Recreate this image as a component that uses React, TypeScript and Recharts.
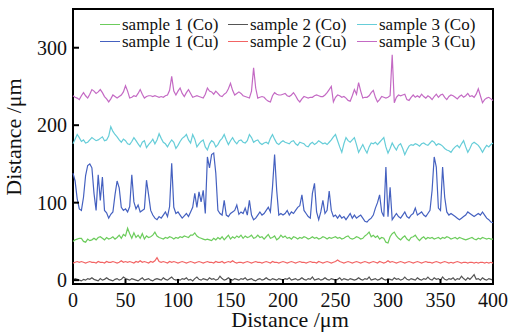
import { LineChart, Line, XAxis, YAxis, ReferenceArea, Legend } from "recharts";

const FONT = '"Liberation Serif", "Times New Roman", serif';

// profiles are sampled every 2 µm from 0 to 400 µm
const STEP_UM = 2;
const X_DOMAIN: [number, number] = [0, 400];
const Y_DOMAIN: [number, number] = [-5, 350];
const xTicks = [0, 50, 100, 150, 200, 250, 300, 350, 400];
const yTicks = [0, 100, 200, 300];

const co1 = [
  50, 52, 53, 54, 54, 50, 49, 53, 51, 52,
  54, 52, 55, 56, 54, 52, 55, 53, 54, 56,
  53, 55, 58, 54, 59, 57, 67, 60, 54, 61,
  55, 58, 54, 60, 53, 57, 55, 56, 58, 62,
  57, 55, 54, 53, 55, 54, 56, 55, 53, 55,
  54, 56, 55, 57, 56, 55, 58, 58, 61, 57,
  55, 54, 53, 52, 53, 52, 51, 54, 52, 55,
  53, 56, 52, 55, 58, 53, 56, 54, 57, 55,
  58, 54, 57, 55, 56, 58, 54, 55, 58, 55,
  56, 53, 56, 59, 54, 55, 57, 52, 54, 58,
  55, 57, 54, 55, 53, 56, 55, 53, 55, 54,
  56, 55, 53, 54, 56, 54, 55, 53, 54, 56,
  55, 53, 55, 54, 55, 56, 54, 55, 53, 54,
  56, 57, 54, 53, 54, 56, 55, 53, 54, 57,
  59, 62, 56, 58, 55, 57, 53, 55, 54, 49,
  48, 56, 60, 62, 57, 54, 52, 55, 57, 53,
  51, 55, 56, 58, 54, 51, 54, 56, 53, 55,
  54, 55, 53, 54, 55, 53, 55, 54, 56, 55,
  53, 54, 55, 53, 55, 54, 53, 52, 53, 54,
  55, 53, 52, 54, 53, 55, 54, 53, 54, 53,
  53,
];

const co2 = [
  0, 2, 1, 0, -1, 1, 0, 2, 1, 3,
  1, 0, -1, 2, 0, 1, 3, 1, 0, -1,
  1, 2, 0, 1, 4, 2, 1, 0, 2, 1,
  0, -1, 1, 3, 0, 1, 2, 0, -1, 1,
  2, 1, 0, 3, 1, 0, 2, 4, 1, 0,
  1, 0, 2, 1, 3, 0, 1, -1, 2, 4,
  1, 0, 2, 1, 0, 3, 1, 2, 0, 1,
  5, 2, 0, 1, 3, 1, 0, 2, 1, 0,
  2, 1, 3, 0, 1, 2, 0, -1, 1, 2,
  0, 1, 3, 1, 0, 2, 1, 0, 2, 1,
  0, 2, 1, 3, 0, 1, 2, 0, 1, 3,
  1, 0, 2, 1, 4, 0, 1, 2, 0, 1,
  3, 1, 0, 2, 1, 0, 1, 3, 0, 2,
  1, 0, 2, 1, 0, 1, 3, 1, 0, 2,
  1, 4, 0, 1, 2, 0, 1, 3, 1, 0,
  2, 1, 0, 3, 1, 2, 0, 1, 4, 1,
  0, 2, 1, 0, 3, 1, 0, 2, 1, 4,
  1, 0, 3, 1, 2, 0, 4, 1, 0, 2,
  1, 3, 0, 2, 1, 5, 2, 0, 3, 1,
  4, 7, 1, 2, 0, 3, 1, 0, 2, 1,
  0,
];

const co3 = [
  176, 182, 188, 184, 179, 181, 177, 178, 181, 184,
  182, 180, 181, 183, 185, 180, 181, 186, 198, 192,
  188, 185, 181, 178, 182, 180, 176, 175, 179, 184,
  180, 176, 172, 178, 180, 171, 175, 178, 182, 176,
  181, 189, 183, 178, 176, 172, 177, 181, 178, 170,
  174, 179, 183, 185, 188, 181, 177, 188, 182, 172,
  176, 179, 181, 172, 168, 176, 180, 178, 172, 175,
  180, 183, 188, 181, 175, 180, 184, 179, 176, 180,
  181, 178, 177, 180, 188, 184, 178, 180, 181, 177,
  175, 177, 178, 176, 183, 188, 182, 177, 175, 178,
  180, 178, 177, 176, 179, 180, 176, 174, 178, 177,
  176, 173, 172, 176, 178, 175, 177, 180, 178, 176,
  177, 175, 178, 181, 185, 188, 180, 172, 165, 176,
  184, 180, 178, 181, 184, 175, 165, 170, 175, 169,
  164, 172, 177, 176, 178, 175, 178, 181, 184, 172,
  164, 170, 177, 172, 168, 174, 176, 170, 162, 168,
  173, 175, 174, 176, 175, 173, 176, 177, 175, 174,
  177, 180, 178, 174, 176, 175, 173, 170, 168, 167,
  165, 169, 172, 174, 171, 176, 180, 172, 165, 170,
  176, 178, 176, 174, 170, 165, 170, 174, 172, 175,
  177,
];

const cu1 = [
  138, 128, 105, 92, 90, 107, 135, 148, 150, 145,
  112, 90, 136, 103, 133, 90, 87, 80, 85, 88,
  110, 128, 119, 94, 90, 92, 88, 95, 136, 101,
  92, 97, 88, 90, 92, 129, 110, 90, 84, 80,
  78, 82, 80, 84, 88, 82, 95, 151, 94, 86,
  88, 84, 80, 83, 86, 82, 88, 94, 112, 94,
  114, 101, 116, 86, 159, 145, 162, 164, 138, 90,
  86, 84, 103, 84, 82, 86, 88, 90, 97, 85,
  88, 86, 93, 84, 103, 84, 78, 80, 84, 88,
  84, 86, 90, 94, 88, 120, 162, 116, 84, 86,
  84, 86, 90, 84, 88, 86, 90, 94, 96, 110,
  90, 86, 82, 80, 112, 125, 88, 78, 88, 103,
  86, 90, 115, 90, 82, 84, 80, 84, 80, 82,
  78, 82, 86, 80, 84, 80, 82, 84, 80, 76,
  75, 78, 80, 84, 93, 100, 110, 88, 82, 146,
  82, 120, 78, 82, 86, 82, 80, 84, 88, 82,
  80, 84, 86, 93, 84, 86, 88, 84, 82, 86,
  90, 116, 159, 146, 93, 90, 146, 107, 88, 84,
  86, 84, 82, 80, 78, 80, 82, 84, 88, 86,
  84, 82, 84, 86, 84, 88, 84, 80, 78, 75,
  74,
];

const cu2 = [
  22, 23, 24, 23, 24, 23, 22, 23, 24, 23,
  23, 22, 24, 23, 23, 22, 24, 23, 23, 24,
  23, 22, 23, 25, 23, 24, 23, 24, 23, 22,
  24, 23, 25, 23, 24, 23, 22, 24, 23, 25,
  29, 24, 23, 24, 23, 22, 24, 23, 24, 23,
  22, 23, 24, 23, 22, 23, 24, 23, 22, 23,
  24, 23, 22, 23, 24, 23, 23, 22, 24, 23,
  23, 24, 22, 23, 24, 23, 25, 23, 22, 23,
  23, 22, 23, 24, 23, 22, 23, 24, 23, 23,
  22, 23, 24, 23, 22, 24, 23, 23, 22, 23,
  24, 23, 22, 23, 24, 23, 22, 23, 24, 23,
  23, 22, 23, 24, 23, 23, 22, 24, 23, 22,
  23, 24, 23, 22, 23, 24, 26, 24, 23, 22,
  23, 24, 23, 22, 23, 24, 23, 22, 23, 24,
  23, 22, 23, 24, 23, 22, 24, 23, 22, 23,
  25, 23, 24, 23, 22, 23, 24, 23, 22, 23,
  24, 23, 22, 23, 24, 23, 22, 23, 24, 23,
  23, 22, 23, 24, 23, 22, 23, 24, 23, 22,
  23, 22, 23, 24, 23, 22, 23, 23, 22, 23,
  23, 22, 23, 22, 23, 23, 22, 23, 22, 23,
  22,
];

const cu3 = [
  238, 236, 235, 233, 238, 242, 238, 235, 240, 246,
  244, 241, 243, 246, 242, 237, 234, 230, 234, 239,
  237, 235, 237, 239, 243, 251, 244, 235, 236, 238,
  237, 241, 246, 240, 235, 237, 238, 238, 237, 238,
  237, 236, 237, 236, 238, 239, 245, 263, 244, 239,
  244, 248, 241, 237, 242, 246, 241, 236, 237, 238,
  237, 236, 235, 240, 248, 244, 243, 240, 244, 241,
  238, 237, 240, 242, 247, 254, 245, 239, 241, 243,
  241, 238, 237, 236, 235, 244, 274, 248, 235, 236,
  237, 236, 233, 231, 230, 238, 242, 240, 239, 239,
  240, 241, 238, 237, 239, 242, 238, 233, 230, 234,
  237, 236, 235, 236, 236, 238, 239, 238, 237, 237,
  239, 242, 246, 250, 230, 236, 239, 238, 236, 237,
  235, 232, 231, 238, 246, 240, 255, 244, 235, 236,
  236, 238, 242, 245, 236, 230, 233, 237, 236, 235,
  236, 238, 291, 229, 236, 239, 238, 239, 240, 233,
  232, 236, 239, 236, 238, 236, 240, 237, 235, 238,
  236, 233, 237, 240, 236, 239, 240, 236, 233, 237,
  239, 238, 236, 234, 237, 239, 236, 238, 241, 237,
  238, 236, 240, 247, 238, 229, 233, 235, 236, 234,
  232,
];

const series = [
  { key: "co1", name: "sample 1 (Co)", color: "#6ccc5c", values: co1 },
  { key: "co2", name: "sample 2 (Co)", color: "#555555", values: co2 },
  { key: "co3", name: "sample 3 (Co)", color: "#66cdd8", values: co3 },
  { key: "cu1", name: "sample 1 (Cu)", color: "#4561c0", values: cu1 },
  { key: "cu2", name: "sample 2 (Cu)", color: "#f26464", values: cu2 },
  { key: "cu3", name: "sample 3 (Cu)", color: "#c46ac4", values: cu3 },
];

const data = cu1.map((_, i) => {
  const row: Record<string, number> = { x: i * STEP_UM };
  series.forEach((s) => {
    row[s.key] = s.values[i];
  });
  return row;
});

function XTick(props: any) {
  const { x, y, payload } = props;
  return (
    <g>
      <line x1={x} y1={y} x2={x} y2={y - 5} stroke="#000" strokeWidth={2} />
      <text x={x} y={y + 23} textAnchor="middle" fontFamily={FONT} fontSize={20} fill="#111">
        {payload.value}
      </text>
    </g>
  );
}

function YTick(props: any) {
  const { x, y, payload } = props;
  return (
    <g>
      <line x1={x} y1={y} x2={x + 6} y2={y} stroke="#000" strokeWidth={2} />
      <text x={x - 6} y={y + 7} textAnchor="end" fontFamily={FONT} fontSize={20} fill="#111">
        {payload.value}
      </text>
    </g>
  );
}

function renderLegend() {
  return (
    <div
      style={{
        display: "grid",
        gridTemplateColumns: "128px 129px auto",
        fontFamily: FONT,
        fontSize: 17,
        lineHeight: "17px",
        color: "#111",
      }}
    >
      {series.map((s) => (
        <div key={s.key} style={{ display: "flex", alignItems: "center", whiteSpace: "nowrap" }}>
          <span style={{ width: 20, height: 0, borderTop: `1.5px solid ${s.color}`, marginRight: 2 }} />
          {s.name}
        </div>
      ))}
    </div>
  );
}

export default function App() {
  return (
    <div style={{ position: "absolute", left: 0, top: 0, background: "#fff" }}>
      <LineChart width={511} height={332} data={data} margin={{ top: 9, right: 18, bottom: 0, left: 0 }}>
        <XAxis
          type="number"
          dataKey="x"
          domain={X_DOMAIN}
          ticks={xTicks}
          interval={0}
          height={48}
          axisLine={false}
          tickLine={false}
          tickSize={0}
          tickMargin={0}
          tick={(p: any) => <XTick {...p} />}
          label={(p: any) => {
            const vb = p.viewBox;
            return (
              <text x={vb.x + vb.width / 2 + 7} y={vb.y + 43} textAnchor="middle" fontFamily={FONT} fontSize={22} fill="#111">
                Distance /μm
              </text>
            );
          }}
        />
        <YAxis
          type="number"
          domain={Y_DOMAIN}
          ticks={yTicks}
          interval={0}
          width={73}
          axisLine={false}
          tickLine={false}
          tickSize={0}
          tickMargin={0}
          tick={(p: any) => <YTick {...p} />}
          label={() => (
            <text x={21} y={137} transform="rotate(-90 21 137)" textAnchor="middle" fontFamily={FONT} fontSize={22} fill="#111">
              Distance /μm
            </text>
          )}
        />
        <Legend
          layout="horizontal"
          verticalAlign="middle"
          align="center"
          content={renderLegend}
          wrapperStyle={{ left: 100, top: 16, width: 390, height: 34 }}
        />
        {series.map((s) => (
          <Line
            key={s.key}
            type="linear"
            dataKey={s.key}
            name={s.name}
            stroke={s.color}
            strokeWidth={1.2}
            dot={false}
            activeDot={false}
            isAnimationActive={false}
          />
        ))}
        <ReferenceArea
          x1={X_DOMAIN[0]}
          x2={X_DOMAIN[1]}
          y1={Y_DOMAIN[0]}
          y2={Y_DOMAIN[1]}
          fill="none"
          stroke="#000"
          strokeWidth={2}
          ifOverflow="visible"
        />
      </LineChart>
    </div>
  );
}
